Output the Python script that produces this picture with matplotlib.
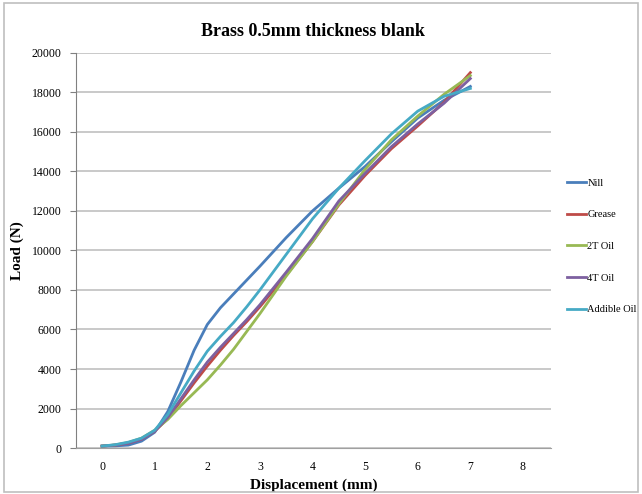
import numpy as np
import matplotlib
matplotlib.use("Agg")
import matplotlib.pyplot as plt
from matplotlib.patches import Rectangle

plt.rcParams['font.family'] = ['Liberation Serif', 'DejaVu Serif']

# displacement (mm) and load (N)
disp = [0, 0.25, 0.5, 0.75, 1, 1.25, 1.5, 1.75, 2, 2.25, 2.5, 2.75, 3, 3.5, 4, 4.5,
        5, 5.5, 6, 6.5, 7]

nill = [100, 110, 150, 350, 800, 1850, 3350, 4950, 6250, 7100, 7800, 8500, 9200,
        10650, 12000, 13150, 14250, 15500, 16700, 17600, 18300]
grease = [100, 150, 250, 450, 850, 1500, 2400, 3300, 4150, 4950, 5700, 6400, 7150,
          8750, 10450, 12300, 13800, 15150, 16300, 17500, 19000]
oil_2t = [100, 160, 280, 500, 900, 1450, 2150, 2800, 3450, 4200, 5000, 5900, 6800,
          8700, 10450, 12350, 14100, 15600, 16800, 17900, 18850]
oil_4t = [100, 150, 250, 450, 850, 1550, 2500, 3450, 4350, 5100, 5800, 6500, 7250,
          8900, 10600, 12500, 13900, 15250, 16400, 17450, 18700]
addible = [100, 170, 300, 500, 900, 1700, 2800, 3900, 4900, 5650, 6350, 7150, 8000,
           9800, 11600, 13150, 14550, 15900, 17050, 17800, 18200]

series = [
    ("Nill", nill, "#4A7EBB"),
    ("Grease", grease, "#BE4B48"),
    ("2T Oil", oil_2t, "#98B954"),
    ("4T Oil", oil_4t, "#7D60A0"),
    ("Addible Oil", addible, "#46AAC5"),
]

fig = plt.figure(figsize=(6.42, 4.94), dpi=100)
ax = fig.add_axes([0.118, 0.093, 0.740, 0.800])

for name, vals, col in series:
    ax.plot(disp, vals, color=col, lw=2.0, label=name, solid_joinstyle='round')

ax.set_xlim(-0.5, 8.53)
ax.set_ylim(0, 20000)
ax.set_xticks(range(0, 9))
ax.set_yticks(range(0, 20001, 2000))
ax.grid(axis='y', color='#C0C0C0', lw=1.2)
ax.set_axisbelow(True)

for s in ['top', 'right']:
    ax.spines[s].set_visible(False)
ax.spines['left'].set_color('#808080')
ax.spines['bottom'].set_color('#A0A0A0')
ax.tick_params(axis='y', length=4, color='#808080', labelsize=8.5, pad=6)
ax.tick_params(axis='x', length=0, labelsize=8.5, pad=9)

ax.set_title('Brass 0.5mm thickness blank', fontsize=13, fontweight='bold', pad=12)
ax.set_xlabel('Displacement (mm)', fontsize=11, fontweight='bold', labelpad=4)
ax.set_ylabel('Load (N)', fontsize=11, fontweight='bold', labelpad=6)

fig.legend(loc='upper left', bbox_to_anchor=(0.868, 0.658), frameon=False,
           fontsize=7.5, handlelength=1.9, handletextpad=0.1, labelspacing=2.15)

# chart area border
fig.patches.append(Rectangle((0.006, 0.004), 0.988, 0.99, transform=fig.transFigure,
                             fill=False, ec='#BFBFBF', lw=1.2))

fig.savefig('out.png', dpi=100)
